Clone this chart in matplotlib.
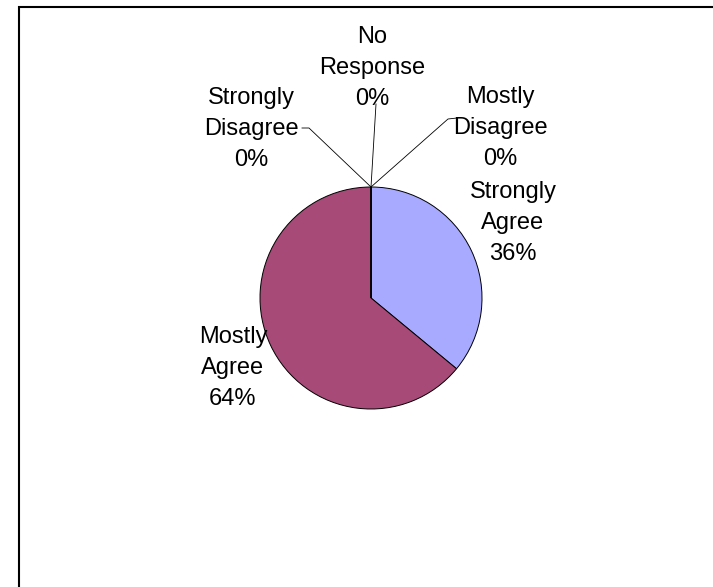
import matplotlib
matplotlib.use("Agg")
import matplotlib.pyplot as plt
from matplotlib.patches import Rectangle

plt.rcParams['font.family'] = ['Liberation Sans', 'DejaVu Sans']

categories = ['Strongly Agree', 'Mostly Agree', 'Strongly Disagree', 'No Response', 'Mostly Disagree']
label_names = ['Strongly\nAgree', 'Mostly\nAgree', 'Strongly\nDisagree', 'No\nResponse', 'Mostly\nDisagree']
values = [36, 64, 0, 0, 0]
colors = ['#A8AAFF', '#A84A78', '#FFFFCC', '#CCFFFF', '#660066']

W, H = 713, 587
fig = plt.figure(figsize=(W / 100, H / 100), dpi=100)
ax = fig.add_axes([0, 0, 1, 1])

cx, cy, r = 371, H - 298, 111
ax.pie(values, colors=colors, startangle=90, counterclock=False,
       center=(cx, cy), radius=r, frame=True,
       wedgeprops=dict(edgecolor='black', linewidth=0.7))
ax.set_xlim(0, W)
ax.set_ylim(0, H)
ax.set_aspect('equal')
ax.axis('off')

# label centres, in pixels from the top-left corner
label_pos = [(513, 223), (233, 368), (251, 129), (372, 68), (500, 128)]
total = sum(values)
for name, v, (px, py) in zip(label_names, values, label_pos):
    ax.text(px, H - py, f"{name}\n{v / total:.0%}", ha='center', va='center',
            fontsize=17, linespacing=1.55)

# leader lines for the empty slices (pixels from the top-left)
leaders = [
    [(302, 128), (309, 128), (371, 187)],
    [(376, 104), (371, 187)],
    [(457, 118), (448, 119), (371, 187)],
]
for pts in leaders:
    ax.plot([p[0] for p in pts], [H - p[1] for p in pts], color='black', linewidth=0.6)

# chart area frame
ax.add_patch(Rectangle((18.5, -10), W, H - 6.5 + 10, fill=False,
                       edgecolor='black', linewidth=1.5))

fig.savefig('out.png', dpi=100)
